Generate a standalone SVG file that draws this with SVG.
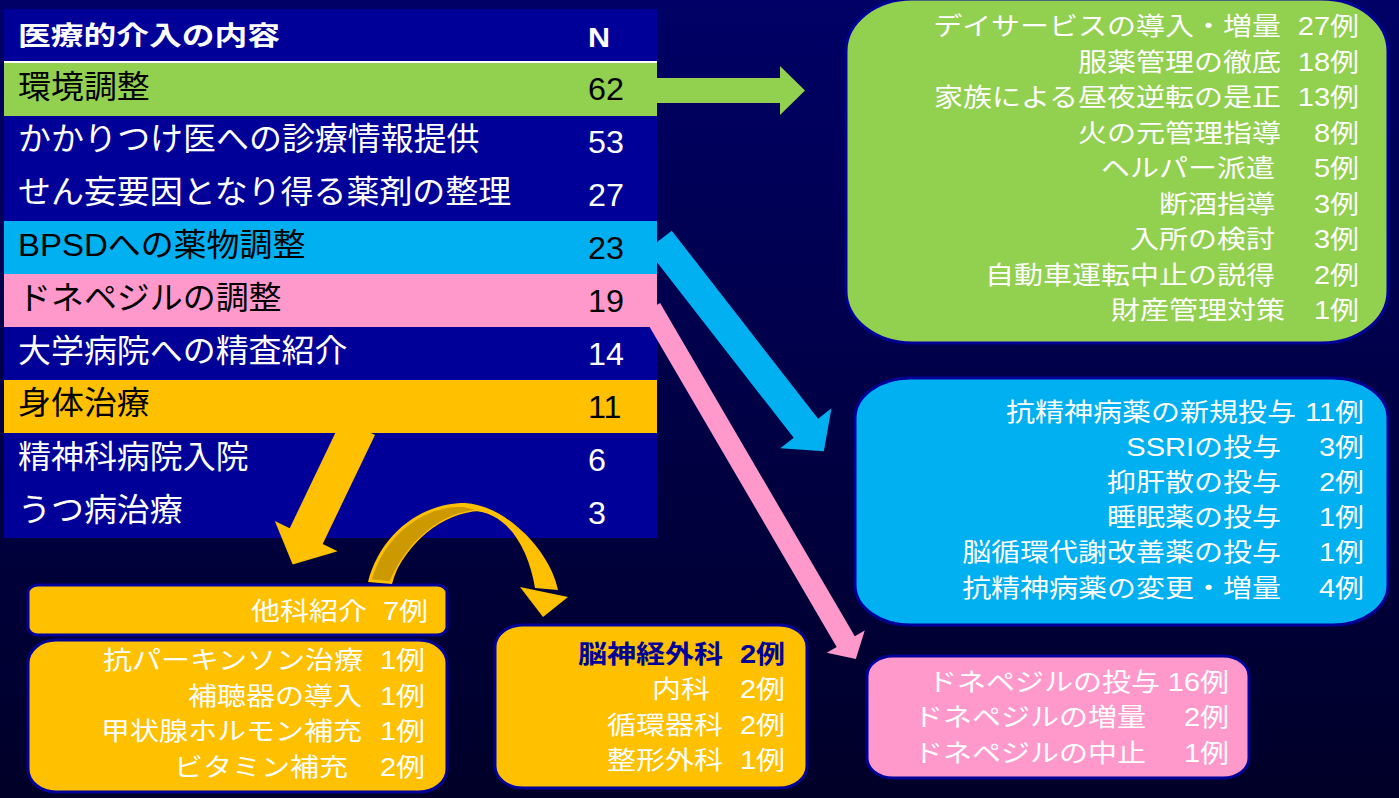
<svg xmlns="http://www.w3.org/2000/svg" width="1399" height="798" viewBox="0 0 1399 798">
<defs>
<linearGradient id="bg" x1="0" y1="0" x2="0" y2="1">
<stop offset="0" stop-color="#000066"/>
<stop offset="1" stop-color="#000028"/>
</linearGradient>
</defs>
<style>
text{font-family:"Liberation Sans","Noto Sans CJK JP",sans-serif}
.w{fill:#fff}
.k{fill:#000}
.nv{fill:#000099}
.r{text-anchor:end}
.lb{font-size:32px}
.nm{font-size:30.5px}
.hd{font-size:26px;font-weight:bold}
.hn{font-size:28px;font-weight:bold}
.s25{font-size:25px}
.b{font-weight:bold}
.box{stroke:#000099;stroke-width:3}
.dk{fill:#000099}
.gr{fill:#92d050}
.cy{fill:#00b0f0}
.pk{fill:#ff99cc}
.or{fill:#ffc000}
</style>
<rect x="0" y="0" width="1399" height="798" fill="url(#bg)"/>

<g id="table">
<g id="header">
<rect class="dk" x="4" y="9" width="653" height="52"/>
<rect x="4" y="61" width="653" height="2.5" fill="#fff"/>
<text class="w hd" transform="matrix(1.26 0 0 1 18 45)">医療的介入の内容</text>
<text class="w hn" transform="matrix(1.09 0 0 1 588 46.5)">N</text>
</g>
<g id="row-kankyo">
<rect class="gr" x="4" y="63" width="653" height="53"/>
<text class="k lb" transform="matrix(1.03 0 0 1 18 97.5)">環境調整</text>
<text class="k nm" transform="matrix(1.06 0 0 1 588 100)">62</text>
</g>
<g id="row-kakaritsuke">
<rect class="dk" x="4" y="116" width="653" height="52"/>
<text class="w lb" transform="matrix(1.03 0 0 1 18 150)">かかりつけ医への診療情報提供</text>
<text class="w nm" transform="matrix(1.06 0 0 1 588 153)">53</text>
</g>
<g id="row-senmou">
<rect class="dk" x="4" y="168" width="653" height="53"/>
<text class="w lb" transform="matrix(1.03 0 0 1 18 203)">せん妄要因となり得る薬剤の整理</text>
<text class="w nm" transform="matrix(1.06 0 0 1 588 206)">27</text>
</g>
<g id="row-bpsd">
<rect class="cy" x="4" y="221" width="653" height="53"/>
<text class="k lb" transform="matrix(1.03 0 0 1 18 256)">BPSDへの薬物調整</text>
<text class="k nm" transform="matrix(1.06 0 0 1 588 259)">23</text>
</g>
<g id="row-donepezil">
<rect class="pk" x="4" y="274" width="653" height="53"/>
<text class="k lb" transform="matrix(1.03 0 0 1 18 309)">ドネペジルの調整</text>
<text class="k nm" transform="matrix(1.06 0 0 1 588 312)">19</text>
</g>
<g id="row-daigaku">
<rect class="dk" x="4" y="327" width="653" height="53"/>
<text class="w lb" transform="matrix(1.03 0 0 1 18 362)">大学病院への精査紹介</text>
<text class="w nm" transform="matrix(1.06 0 0 1 588 365)">14</text>
</g>
<g id="row-shintai">
<rect class="or" x="4" y="380" width="653" height="53"/>
<text class="k lb" transform="matrix(1.03 0 0 1 18 414)">身体治療</text>
<text class="k nm" transform="matrix(1.06 0 0 1 588 418)">11</text>
</g>
<g id="row-seishinka">
<rect class="dk" x="4" y="433" width="653" height="53"/>
<text class="w lb" transform="matrix(1.03 0 0 1 18 468)">精神科病院入院</text>
<text class="w nm" transform="matrix(1.06 0 0 1 588 471)">6</text>
</g>
<g id="row-utsu">
<rect class="dk" x="4" y="486" width="653" height="52"/>
<text class="w lb" transform="matrix(1.03 0 0 1 18 521)">うつ病治療</text>
<text class="w nm" transform="matrix(1.06 0 0 1 588 524)">3</text>
</g>
</g>

<g id="box-kankyo">
<rect class="gr box" x="846" y="-1" width="542" height="344" rx="66" ry="52"/>
<g class="w s25">
<text class="r" transform="matrix(1.16 0 0 1 1281 35)">デイサービスの導入・増量</text>
<text class="r" transform="matrix(1.16 0 0 1 1359 35)">27例</text>
<text class="r" transform="matrix(1.16 0 0 1 1281 70.5)">服薬管理の徹底</text>
<text class="r" transform="matrix(1.16 0 0 1 1359 70.5)">18例</text>
<text class="r" transform="matrix(1.16 0 0 1 1281 106)">家族による昼夜逆転の是正</text>
<text class="r" transform="matrix(1.16 0 0 1 1359 106)">13例</text>
<text class="r" transform="matrix(1.16 0 0 1 1281 141.5)">火の元管理指導</text>
<text class="r" transform="matrix(1.16 0 0 1 1359 141.5)">8例</text>
<text class="r" transform="matrix(1.16 0 0 1 1275 177)">ヘルパー派遣</text>
<text class="r" transform="matrix(1.16 0 0 1 1359 177)">5例</text>
<text class="r" transform="matrix(1.16 0 0 1 1275 212.5)">断酒指導</text>
<text class="r" transform="matrix(1.16 0 0 1 1359 212.5)">3例</text>
<text class="r" transform="matrix(1.16 0 0 1 1275 248)">入所の検討</text>
<text class="r" transform="matrix(1.16 0 0 1 1359 248)">3例</text>
<text class="r" transform="matrix(1.16 0 0 1 1275 283.5)">自動車運転中止の説得</text>
<text class="r" transform="matrix(1.16 0 0 1 1359 283.5)">2例</text>
<text class="r" transform="matrix(1.16 0 0 1 1285 319)">財産管理対策</text>
<text class="r" transform="matrix(1.16 0 0 1 1359 319)">1例</text>
</g>
</g>

<g id="box-bpsd">
<rect class="cy box" x="855" y="378" width="533" height="247" rx="55" ry="40"/>
<g class="w s25">
<text class="r" transform="matrix(1.16 0 0 1 1296 420.5)">抗精神病薬の新規投与</text>
<text class="r" transform="matrix(1.16 0 0 1 1364 420.5)">11例</text>
<text class="r" transform="matrix(1.16 0 0 1 1281 455.5)">SSRIの投与</text>
<text class="r" transform="matrix(1.16 0 0 1 1364 455.5)">3例</text>
<text class="r" transform="matrix(1.16 0 0 1 1281 490.5)">抑肝散の投与</text>
<text class="r" transform="matrix(1.16 0 0 1 1364 490.5)">2例</text>
<text class="r" transform="matrix(1.16 0 0 1 1281 525.5)">睡眠薬の投与</text>
<text class="r" transform="matrix(1.16 0 0 1 1364 525.5)">1例</text>
<text class="r" transform="matrix(1.16 0 0 1 1281 561)">脳循環代謝改善薬の投与</text>
<text class="r" transform="matrix(1.16 0 0 1 1364 561)">1例</text>
<text class="r" transform="matrix(1.16 0 0 1 1281 596.5)">抗精神病薬の変更・増量</text>
<text class="r" transform="matrix(1.16 0 0 1 1364 596.5)">4例</text>
</g>
</g>

<g id="box-donepezil">
<rect class="pk box" x="867" y="656" width="382" height="122" rx="26" ry="20"/>
<g class="w s25">
<text class="r" transform="matrix(1.16 0 0 1 1160 690.5)">ドネペジルの投与</text>
<text class="r" transform="matrix(1.16 0 0 1 1229 690.5)">16例</text>
<text class="r" transform="matrix(1.16 0 0 1 1146 725.5)">ドネペジルの増量</text>
<text class="r" transform="matrix(1.16 0 0 1 1229 725.5)">2例</text>
<text class="r" transform="matrix(1.16 0 0 1 1146 761.5)">ドネペジルの中止</text>
<text class="r" transform="matrix(1.16 0 0 1 1229 761.5)">1例</text>
</g>
</g>

<g id="box-takashoukai">
<rect class="or box" x="28" y="585" width="419" height="50" rx="10" ry="8"/>
<g class="w s25">
<text class="r" transform="matrix(1.16 0 0 1 367 619.5)">他科紹介</text>
<text class="r" transform="matrix(1.16 0 0 1 428 619.5)">7例</text>
</g>
</g>

<g id="box-shintai">
<rect class="or box" x="28" y="640" width="419" height="152" rx="28" ry="23"/>
<g class="w s25">
<text class="r" transform="matrix(1.16 0 0 1 363 668.5)">抗パーキンソン治療</text>
<text class="r" transform="matrix(1.16 0 0 1 425 668.5)">1例</text>
<text class="r" transform="matrix(1.16 0 0 1 362 704.5)">補聴器の導入</text>
<text class="r" transform="matrix(1.16 0 0 1 425 704.5)">1例</text>
<text class="r" transform="matrix(1.16 0 0 1 362 739.5)">甲状腺ホルモン補充</text>
<text class="r" transform="matrix(1.16 0 0 1 425 739.5)">1例</text>
<text class="r" transform="matrix(1.16 0 0 1 348 775.5)">ビタミン補充</text>
<text class="r" transform="matrix(1.16 0 0 1 425 775.5)">2例</text>
</g>
</g>

<g id="box-ka">
<rect class="or box" x="495" y="625" width="312" height="163" rx="28" ry="22"/>
<g class="s25">
<text class="r b nv" transform="matrix(1.16 0 0 1 723 662.5)">脳神経外科</text>
<text class="r b nv" transform="matrix(1.16 0 0 1 785 662.5)">2例</text>
<text class="r w" transform="matrix(1.16 0 0 1 710 697.5)">内科</text>
<text class="r w" transform="matrix(1.16 0 0 1 785 697.5)">2例</text>
<text class="r w" transform="matrix(1.16 0 0 1 723 733.5)">循環器科</text>
<text class="r w" transform="matrix(1.16 0 0 1 785 733.5)">2例</text>
<text class="r w" transform="matrix(1.16 0 0 1 723 768.5)">整形外科</text>
<text class="r w" transform="matrix(1.16 0 0 1 785 768.5)">1例</text>
</g>
</g>

<g id="connectors">
<polygon class="gr" points="657,78 780,78 780,66 805,90.5 780,115 780,103 657,103"/>
<polygon class="cy" transform="translate(659.5 240.2) rotate(52.1)" points="0,-15.5 238.3,-15.5 238.3,-32.4 267.6,0 238.3,32.4 238.3,15.5 0,15.5"/>
<polygon class="pk" transform="translate(651 308.4) rotate(59.7)" points="0,-10.5 386,-10.5 386,-22 406,0 386,22 386,10.5 0,10.5"/>
<polygon class="or" transform="translate(358.5 427) rotate(115.6)" points="0,-18.3 121,-18.3 121,-34.8 152.4,0 121,34.8 121,18.3 0,18.3"/>
<g id="curved-arrow">
<path class="or" d="M368,582 C380,535 420,503 465,503 C505,505 550,550 558,590 L535,588 C528,545 505,511 472,511 C435,511 405,540 392,584 Z"/>
<path d="M371,580 C383,537 420,506 462,506 L480,510 C440,513 408,541 390,582 Z" fill="#cc9900" stroke="#ffc000" stroke-width="1.5"/>
<polygon class="or" points="520,587 568,597 543,617"/>
</g>
</g>
</svg>
